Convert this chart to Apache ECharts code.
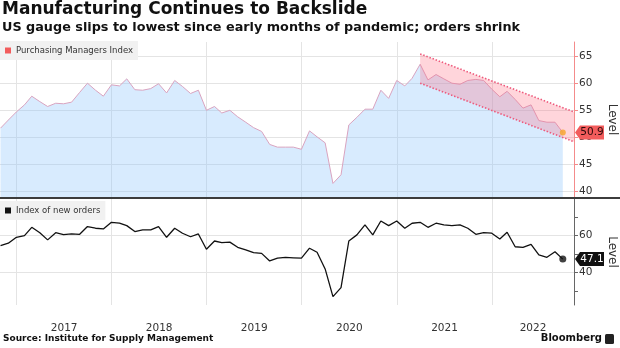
<!DOCTYPE html>
<html><head><meta charset="utf-8">
<script src="https://cdn.jsdelivr.net/npm/echarts@6/dist/echarts.min.js"></script>
<style>html,body{margin:0;padding:0;background:#fff}#c{width:620px;height:348px}</style>
</head><body><div id="c"></div>
<script>
const titleText = 'Manufacturing Continues to Backslide';
const subtitleText = 'US gauge slips to lowest since early months of pandemic; orders shrink';
const sourceText = 'Source: Institute for Supply Management';
const brandText = 'Bloomberg';
const pmiName = 'Purchasing Managers Index';
const ordersName = 'Index of new orders';
const axisName = 'Level';

const months = [
  '2016-10','2016-11','2016-12',
  '2017-01','2017-02','2017-03','2017-04','2017-05','2017-06','2017-07','2017-08','2017-09','2017-10','2017-11','2017-12',
  '2018-01','2018-02','2018-03','2018-04','2018-05','2018-06','2018-07','2018-08','2018-09','2018-10','2018-11','2018-12',
  '2019-01','2019-02','2019-03','2019-04','2019-05','2019-06','2019-07','2019-08','2019-09','2019-10','2019-11','2019-12',
  '2020-01','2020-02','2020-03','2020-04','2020-05','2020-06','2020-07','2020-08','2020-09','2020-10','2020-11','2020-12',
  '2021-01','2021-02','2021-03','2021-04','2021-05','2021-06','2021-07','2021-08','2021-09','2021-10','2021-11','2021-12',
  '2022-01','2022-02','2022-03','2022-04','2022-05','2022-06','2022-07','2022-08','2022-09'
];
const pmiValues = [
  51.7, 53.2, 54.7,
  56.0, 57.6, 56.6, 55.7, 56.3, 56.2, 56.5, 58.3, 60.0, 58.7, 57.6, 59.7,
  59.5, 60.8, 58.8, 58.7, 59.0, 59.9, 58.2, 60.5, 59.4, 58.1, 58.7, 55.0,
  55.7, 54.5, 55.0, 53.8, 52.8, 51.8, 51.1, 48.7, 48.2, 48.2, 48.2, 47.8,
  51.2, 50.1, 49.0, 41.5, 43.1, 52.3, 53.7, 55.2, 55.2, 58.7, 57.2, 60.5,
  59.5, 60.9, 63.5, 60.6, 61.6, 60.8, 60.0, 59.8, 60.5, 60.7, 60.5, 58.9,
  57.5, 58.5, 57.0, 55.4, 56.0, 53.1, 52.8, 52.8, 50.9
];
const newOrdersValues = [
  54.4, 55.7, 58.9,
  59.8, 64.3, 61.4, 57.5, 61.4, 60.3, 60.7, 60.5, 64.7, 63.8, 63.4, 67.0,
  66.6, 65.2, 62.0, 62.9, 62.9, 64.7, 58.9, 63.8, 61.1, 59.2, 60.7, 52.4,
  56.9, 56.0, 56.3, 53.5, 52.1, 50.6, 50.2, 46.1, 47.6, 48.0, 47.8, 47.6,
  53.0, 50.8, 41.8, 26.8, 31.7, 56.9, 60.2, 65.6, 60.2, 67.7, 65.2, 67.7,
  63.8, 66.5, 67.0, 64.3, 66.5, 65.6, 65.2, 65.6, 63.8, 60.5, 61.4, 61.1,
  58.0, 61.6, 53.8, 53.5, 55.1, 49.4, 48.1, 51.1, 47.1
];
// downward trend channel (start / end)
const trendDates = ['2021-03-31', '2022-11-12'];
const trendUpper = [65.4, 54.7];
const trendLower = [60.0, 49.2];

const xRange = ['2016-10-29', '2022-11-12'];
const yearLines = [2017, 2018, 2019, 2020, 2021, 2022];
const yearLabels = [2017, 2018, 2019, 2020, 2021, 2022];
const pmiTicks = [40, 45, 50, 55, 60, 65];
const pmiRange = [39, 67.6];
const ordersTicks = [30, 40, 50, 60, 70];
const ordersLabels = [40, 60];
const ordersRange = [22.3, 79.6];

const FONT = 'DejaVu Sans';
const ts = s => { const p = s.split('-').map(Number); return p.length === 3 ? Date.UTC(p[0], p[1]-1, p[2]) : Date.UTC(p[0], p[1], 0); };
const xMin = ts(xRange[0]), xMax = ts(xRange[1]);
const pmiData = months.map((m, i) => [ts(m), pmiValues[i]]);
const ordersData = months.map((m, i) => [ts(m), newOrdersValues[i]]);
const yearStarts = yearLines.map(y => Date.UTC(y, 0, 1));
const yearMids = yearLabels.map(y => {
  const a = Math.max(Date.UTC(y, 0, 1), xMin), b = Math.min(Date.UTC(y + 1, 0, 1), xMax);
  return (a + b) / 2;
});
const trendData = trendDates.map((d, i) => [ts(d), trendLower[i], trendUpper[i]]);
const lastPmi = pmiData[pmiData.length - 1];
const lastOrders = ordersData[ordersData.length - 1];

const chart = echarts.init(document.getElementById('c'), null, {renderer: 'canvas'});
const gridLine = {show: true, lineStyle: {color: '#e4e4e4', width: 1}};
const xBase = {
  type: 'value', min: xMin, max: xMax, scale: true,
  axisLine: {show: false},
  axisTick: {show: false, customValues: yearStarts},
  splitLine: gridLine
};
const legendBase = {
  left: 0, icon: 'rect', itemWidth: 6, itemHeight: 6,
  backgroundColor: '#f1f1f1', padding: [5, 5, 5, 5], selectedMode: false,
  textStyle: {fontSize: 8.5, color: '#333', fontFamily: FONT}
};
const option = {
  animation: false,
  backgroundColor: '#fff',
  title: [
    {text: titleText, left: 2, top: 1, padding: 0, textStyle: {fontSize: 17, fontWeight: 'bold', color: '#111', fontFamily: FONT}},
    {text: subtitleText, left: 2, top: 21.5, padding: 0, textStyle: {fontSize: 12.8, fontWeight: 'bold', color: '#111', fontFamily: FONT}},
    {text: sourceText, left: 3, top: 334, padding: 0, textStyle: {fontSize: 9, fontWeight: 'bold', color: '#111', fontFamily: FONT}},
    {text: brandText, right: 18, top: 333, padding: 0, textStyle: {fontSize: 10, fontWeight: 'bold', color: '#111', fontFamily: FONT}}
  ],
  legend: [
    Object.assign({}, legendBase, {top: 41, data: [{name: pmiName, itemStyle: {color: '#f25c5c'}}]}),
    Object.assign({}, legendBase, {top: 201, data: [{name: ordersName, itemStyle: {color: '#111'}}]})
  ],
  grid: [
    {left: 0, right: 46, top: 42, height: 155, outerBoundsMode: 'none'},
    {left: 0, right: 46, top: 199, height: 106, outerBoundsMode: 'none'}
  ],
  xAxis: [
    Object.assign({}, xBase, {gridIndex: 0, axisLabel: {show: false}}),
    Object.assign({}, xBase, {gridIndex: 1, axisLabel: {
      show: true, customValues: yearMids, color: '#333', fontSize: 10.5, fontFamily: FONT, margin: 18,
      formatter: v => String(new Date(v).getUTCFullYear())
    }})
  ],
  yAxis: [
    {type: 'value', gridIndex: 0, position: 'right', min: pmiRange[0], max: pmiRange[1],
      name: axisName, nameLocation: 'middle', nameRotate: -90, nameGap: 32,
      nameTextStyle: {fontSize: 12, color: '#333', fontFamily: FONT},
      axisLine: {show: true, lineStyle: {color: '#f48b8b', width: 1}},
      axisTick: {show: true, customValues: pmiTicks, length: 4, lineStyle: {color: '#f48b8b'}},
      axisLabel: {customValues: pmiTicks, color: '#333', fontSize: 10.5, fontFamily: FONT, margin: 5},
      splitLine: gridLine},
    {type: 'value', gridIndex: 1, position: 'right', min: ordersRange[0], max: ordersRange[1],
      name: axisName, nameLocation: 'middle', nameRotate: -90, nameGap: 32,
      nameTextStyle: {fontSize: 12, color: '#333', fontFamily: FONT},
      axisLine: {show: true, lineStyle: {color: '#666', width: 1}},
      axisTick: {show: true, customValues: ordersTicks, length: 4, lineStyle: {color: '#666'}},
      axisLabel: {customValues: ordersLabels, color: '#333', fontSize: 10.5, fontFamily: FONT, margin: 5},
      splitLine: {show: false}},
    {type: 'value', gridIndex: 1, position: 'right', min: ordersRange[0], max: ordersRange[1],
      axisLine: {show: false}, axisTick: {show: false, customValues: ordersLabels},
      axisLabel: {show: false}, splitLine: gridLine}
  ],
  series: [
    {name: pmiName, type: 'line', xAxisIndex: 0, yAxisIndex: 0, data: pmiData,
      symbol: 'none', showSymbol: false, z: 2,
      lineStyle: {color: '#d9a3bf', width: 1},
      itemStyle: {color: '#f25c5c'},
      areaStyle: {color: 'rgba(145,197,252,0.5)', origin: 'start'}},
    {name: 'trend', type: 'custom', xAxisIndex: 0, yAxisIndex: 0, data: trendData, z: 3,
      encode: {x: 0, y: [1, 2]},
      renderItem: (params, api) => {
        if (params.dataIndex !== 0) return null;
        const l0 = api.coord([trendData[0][0], trendData[0][1]]);
        const u0 = api.coord([trendData[0][0], trendData[0][2]]);
        const l1 = api.coord([trendData[1][0], trendData[1][1]]);
        const u1 = api.coord([trendData[1][0], trendData[1][2]]);
        const dash = {stroke: '#ee5a7c', lineWidth: 1.6, lineDash: [1.5, 1.8], fill: null};
        return {type: 'group', children: [
          {type: 'polygon', shape: {points: [u0, u1, l1, l0]}, style: {fill: 'rgba(255,105,125,0.28)'}},
          {type: 'line', shape: {x1: u0[0], y1: u0[1], x2: u1[0], y2: u1[1]}, style: dash},
          {type: 'line', shape: {x1: l0[0], y1: l0[1], x2: l1[0], y2: l1[1]}, style: dash}
        ]};
      }},
    {name: 'pmiLast', type: 'scatter', xAxisIndex: 0, yAxisIndex: 0, data: [lastPmi],
      symbolSize: 6, itemStyle: {color: '#f7a428'}, z: 5},
    {name: ordersName, type: 'line', xAxisIndex: 1, yAxisIndex: 1, data: ordersData,
      symbol: 'none', showSymbol: false, z: 2,
      lineStyle: {color: '#111', width: 1.3}, itemStyle: {color: '#111'}},
    {name: 'ordersLast', type: 'scatter', xAxisIndex: 1, yAxisIndex: 1, data: [lastOrders],
      symbolSize: 7, itemStyle: {color: '#111'}, z: 5}
  ],
  graphic: [
    {id: 'sep', type: 'rect', shape: {x: 0, y: 197, width: 620, height: 2}, style: {fill: '#3c3c3c'}, z: 50},
    {id: 'logo', type: 'rect', shape: {x: 605, y: 334, width: 9, height: 10, r: 1.5}, style: {fill: '#222'}, z: 50}
  ]
};
chart.setOption(option);

function tag(id, pt, text, bg, fg) {
  const x = pt[0], y = pt[1];
  return [
    {id: id + 'b', type: 'polygon', z: 100,
      shape: {points: [[x + 1, y], [x + 6, y - 7], [x + 30, y - 7], [x + 30, y + 7], [x + 6, y + 7]]},
      style: {fill: bg}},
    {id: id + 't', type: 'text', z: 101, x: x + 18, y: y,
      style: {text: text, fill: fg, fontSize: 10.5, fontFamily: FONT, align: 'center', verticalAlign: 'middle'}}
  ];
}
const p1 = chart.convertToPixel({gridIndex: 0}, [xMax, lastPmi[1]]);
const p2 = chart.convertToPixel({gridIndex: 1}, [xMax, lastOrders[1]]);
chart.setOption({graphic: [].concat(
  tag('t1', p1, lastPmi[1].toFixed(1), '#f25c5c', '#2a0a0a'),
  tag('t2', p2, lastOrders[1].toFixed(1), '#111', '#fff')
)});
</script></body></html>
